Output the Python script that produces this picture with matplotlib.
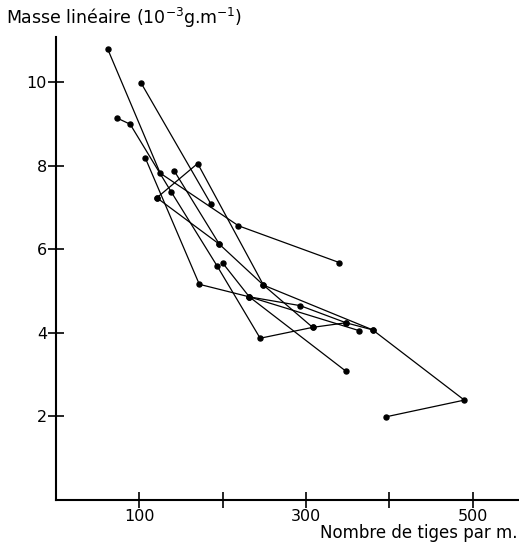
import matplotlib
matplotlib.use("Agg")
import matplotlib.pyplot as plt

# Data: each series is a chain of (stems per m, linear mass 10^-3 g/m)
s1_x = [62, 125, 219, 340]
s1_y = [10.79, 7.82, 6.56, 5.68]
s2_x = [102, 186]
s2_y = [9.98, 7.08]
s3_x = [73, 89, 138, 193, 245, 308, 348]
s3_y = [9.14, 8.99, 7.38, 5.61, 3.87, 4.13, 4.24]
s4_x = [121, 170, 249, 380, 490, 396]
s4_y = [7.23, 8.05, 5.14, 4.07, 2.39, 1.99]
s5_x = [107, 172, 232, 348]
s5_y = [8.19, 5.16, 4.86, 3.08]
s6_x = [142, 196, 249, 308]
s6_y = [7.87, 6.12, 5.14, 4.13]
s7_x = [200, 232, 293, 348, 380]
s7_y = [5.67, 4.86, 4.65, 4.24, 4.07]
s8_x = [121, 196]
s8_y = [7.23, 6.12]
s9_x = [232, 364]
s9_y = [4.86, 4.05]

series = [(s1_x, s1_y), (s2_x, s2_y), (s3_x, s3_y), (s4_x, s4_y), (s5_x, s5_y),
          (s6_x, s6_y), (s7_x, s7_y), (s8_x, s8_y), (s9_x, s9_y)]

x_ticks = [100, 200, 300, 400, 500]
x_ticklabels = ["100", "", "300", "", "500"]
y_ticks = [2, 4, 6, 8, 10]
y_ticklabels = ["2", "4", "6", "8", "10"]

fig = plt.figure(figsize=(5.19, 5.44), dpi=100)
ax = fig.add_axes([56/519, 44/544, 1 - 56/519, 463/544])

for xs, ys in series:
    ax.plot(xs, ys, color="black", lw=0.9, marker="o", markersize=3.6,
            markerfacecolor="black", markeredgecolor="black", solid_capstyle="butt")

ax.set_xlim(0, 463/0.8333)
ax.set_ylim(0, 463/41.8)

for s in ["top", "right"]:
    ax.spines[s].set_visible(False)
for s in ["left", "bottom"]:
    ax.spines[s].set_linewidth(1.5)

ax.set_xticks(x_ticks)
ax.set_xticklabels(x_ticklabels)
ax.set_yticks(y_ticks)
ax.set_yticklabels(y_ticklabels)
ax.tick_params(axis="both", direction="inout", length=11, width=1.2, labelsize=11.5)
ax.tick_params(axis="x", pad=1)
ax.tick_params(axis="y", pad=1)

fig.text(6/519, 1 - 18/544, "Masse linéaire (10$^{-3}$g.m$^{-1}$)", fontsize=12.5,
         ha="left", va="center")
fig.text(517/519, 2/544, "Nombre de tiges par m.", fontsize=12,
         ha="right", va="bottom")

fig.savefig("out.png", dpi=100)
